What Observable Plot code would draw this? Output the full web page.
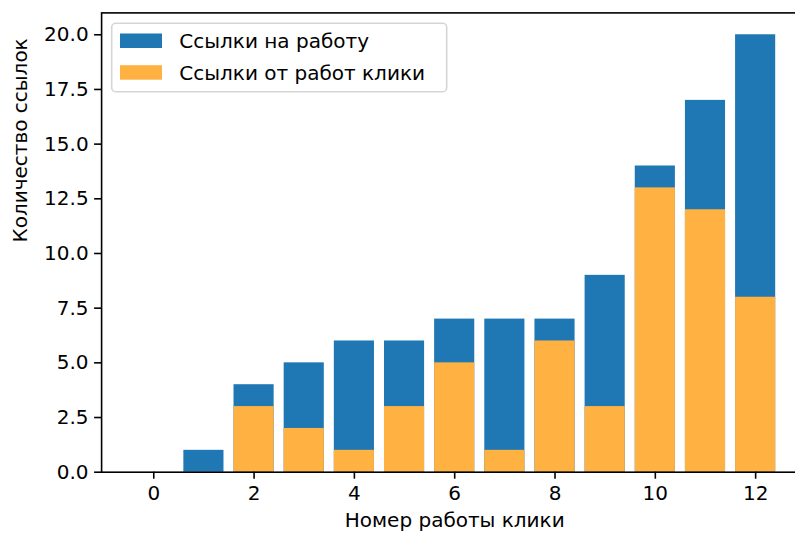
<!DOCTYPE html>
<html><head><meta charset="utf-8">
<script src="https://cdn.jsdelivr.net/npm/d3@7"></script>
<script src="https://cdn.jsdelivr.net/npm/@observablehq/plot@0.6"></script>
<style>
html,body{margin:0;background:#fff;overflow:hidden;}
#chart{position:relative;width:795px;height:535px;overflow:hidden;}
#chart svg{font-family:"DejaVu Sans",sans-serif;max-width:none !important;display:block;}
</style>
</head><body><div id="chart"></div>
<script>
const cliques = [0,1,2,3,4,5,6,7,8,9,10,11,12];
const linksTo = [0,1,4,5,6,6,7,7,7,9,14,17,20];
const linksFrom = [0,0,3,2,1,3,5,1,6,3,13,12,8];
const xTicks = [0,2,4,6,8,10,12];
const yTicks = [0,2.5,5,7.5,10,12.5,15,17.5,20];
const seriesNames = ["Ссылки на работу","Ссылки от работ клики"];
const xLabel = "Номер работы клики";
const yLabel = "Количество ссылок";
const colors = ["#1f77b4","#ffb142"];

const dataTo = cliques.map((c,i)=>({c, v: linksTo[i]}));
const dataFrom = cliques.map((c,i)=>({c, v: linksFrom[i]}));

const plot = Plot.plot({
  width: 810, height: 535,
  marginLeft: 101.1, marginRight: 2.7, marginTop: 12.4, marginBottom: 63.3,
  style: {fontFamily: "DejaVu Sans", fontSize: "20px", color: "#000", background: "#fff", maxWidth: "none"},
  x: {domain: [-1.04, 13.04]},
  y: {domain: [0, 21]},
  marks: [
    Plot.rectY(dataTo, {x1: d => d.c - 0.4, x2: d => d.c + 0.4, y1: 0, y2: "v", fill: colors[0]}),
    Plot.rectY(dataFrom, {x1: d => d.c - 0.4, x2: d => d.c + 0.4, y1: 0, y2: "v", fill: colors[1]}),
    Plot.frame({stroke: "#000", strokeWidth: 1.6}),
    Plot.axisX({ticks: xTicks, tickFormat: d => String(d), tickSize: 7, tickPadding: 7, strokeWidth: 1.6, fontSize: 20, label: null}),
    Plot.axisY({ticks: yTicks, tickFormat: d => d.toFixed(1), tickSize: 7, tickPadding: 6, strokeWidth: 1.6, fontSize: 20, label: null}),
    Plot.text([xLabel], {text: d => d, frameAnchor: "bottom", lineAnchor: "top", dy: 41, fontSize: 20}),
    Plot.text([yLabel], {text: d => d, frameAnchor: "left", rotate: -90, lineAnchor: "middle", dx: -81, fontSize: 20})
  ]
});
document.getElementById("chart").appendChild(plot);

// legend drawn inside the axes
const svg = d3.select(plot);
const g = svg.append("g").attr("class","legend").attr("text-anchor","start");
g.append("rect").attr("x",111.7).attr("y",23.3).attr("width",335).attr("height",68.4)
  .attr("rx",4).attr("fill","#fff").attr("fill-opacity",0.8).attr("stroke","#d5d5d5").attr("stroke-width",1.6);
seriesNames.forEach((name,i)=>{
  g.append("rect").attr("x",120).attr("y",33.5 + i*31.7).attr("width",42).attr("height",14.5).attr("fill",colors[i]);
  g.append("text").attr("x",179.3).attr("y",48.2 + i*31.7).attr("font-size","20px")
    .attr("text-anchor","start").attr("fill","#000").text(name);
});
</script>
</body></html>
